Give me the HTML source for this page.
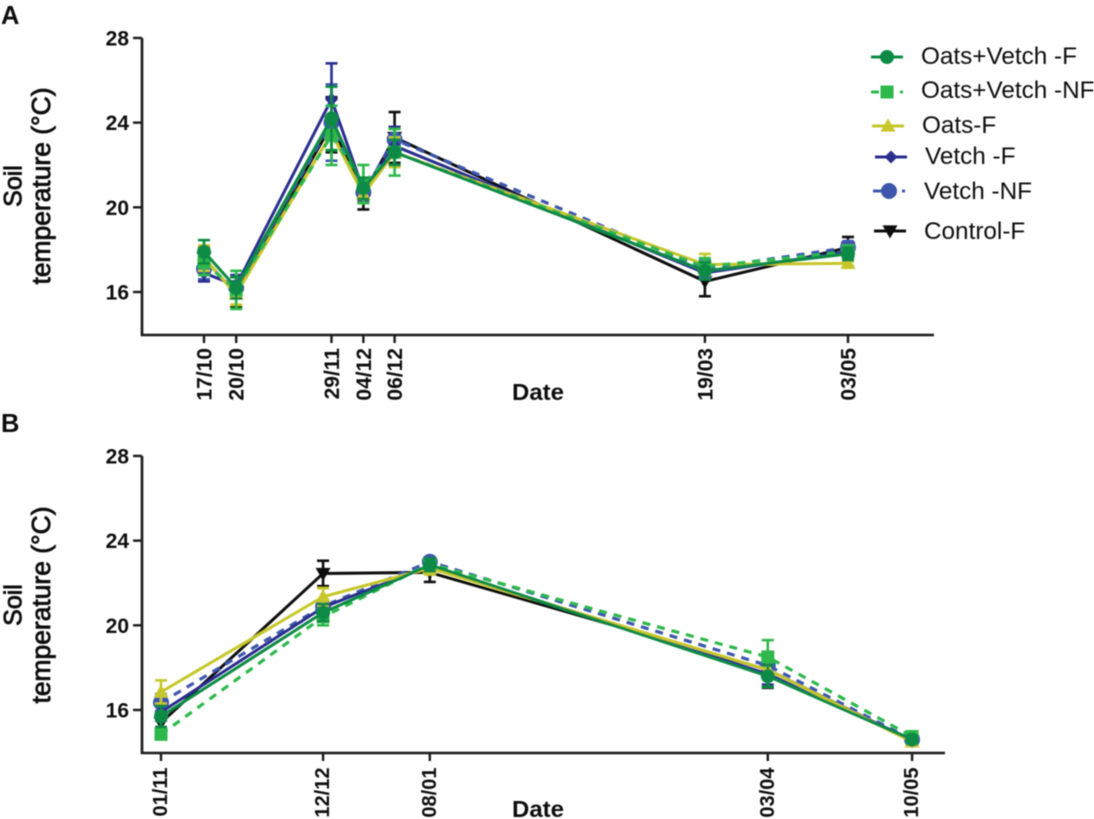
<!DOCTYPE html>
<html lang="en">
<head>
<meta charset="utf-8">
<title>Soil temperature by date</title>
<style>
html,body{margin:0;padding:0;background:#fff;width:1094px;height:819px;overflow:hidden}
svg{display:block}
text{font-family:"Liberation Sans",sans-serif;fill:#111}
.b{font-weight:bold}
.m{font-weight:normal;stroke:#111;stroke-width:0.8}
</style>
</head>
<body>
<svg id="chart" xmlns="http://www.w3.org/2000/svg" width="1094" height="819" viewBox="0 0 1094 819">
<defs><filter id="soft" x="-5%" y="-5%" width="110%" height="110%"><feGaussianBlur stdDeviation="0.55"/></filter></defs>
<rect width="1094" height="819" fill="#fff"/>
<g id="root" filter="url(#soft)"></g>
</svg>
<script>
/* Shared axis ticks */
const yTickValues = [16, 20, 24, 28];

/* Panel A */
const datesA = ["17/10", "20/10", "29/11", "04/12", "06/12", "19/03", "03/05"];
const axisPosA = [0, 9.9, 39.2, 49, 58.6, 154, 198];
const oatsVetchF_A = [17.9, 16.2, 24.2, 20.9, 22.6, 17.0, 17.8];
const oatsVetchNF_A = [17.4, 16.1, 23.4, 21.1, 22.6, 17.2, 17.9];
const oatsF_A = [17.6, 15.9, 23.5, 20.6, 22.6, 17.3, 17.35];
const vetchF_A = [16.9, 16.3, 25.1, 20.8, 22.9, 16.9, 17.9];
const vetchNF_A = [17.1, 16.2, 24.0, 20.7, 23.2, 17.1, 18.1];
const controlF_A = [17.6, 15.9, 23.9, 20.6, 23.3, 16.5, 18.1];
const oatsVetchF_A_err = [0.55, 0.5, 1.5, 0.5, 0.6, 0.4, 0.3];
const oatsVetchNF_A_err = [0.6, 0.9, 1.4, 0.9, 1.1, 0.4, 0.3];
const oatsF_A_err = [0.6, 0.5, 0.8, 0.4, 0.7, 0.5, 0.1];
const vetchF_A_err = [0.4, 0.5, 1.7, 0.5, 0.9, 0.3, 0.3];
const vetchNF_A_err = [0.5, 0.5, 1.8, 0.5, 0.6, 0.4, 0.3];
const controlF_A_err = [0.5, 0.6, 1.3, 0.7, 1.2, 0.7, 0.5];

/* Panel B */
const datesB = ["01/11", "12/12", "08/01", "03/04", "10/05"];
const axisPosB = [0, 41, 68, 153.5, 190];
const oatsVetchF_B = [15.7, 20.6, 22.85, 17.6, 14.6];
const oatsVetchNF_B = [14.85, 20.4, 22.9, 18.5, 14.75];
const oatsF_B = [16.85, 21.35, 22.7, 17.9, 14.5];
const vetchF_B = [15.9, 20.85, 22.8, 17.7, 14.6];
const vetchNF_B = [16.35, 20.9, 23.0, 18.1, 14.6];
const controlF_B = [15.4, 22.45, 22.5, 17.9, 14.55];
const oatsVetchF_B_err = [0.5, 0.4, 0.3, 0.5, 0.2];
const oatsVetchNF_B_err = [0.1, 0.4, 0.2, 0.8, 0.2];
const oatsF_B_err = [0.55, 0.4, 0.3, 0.4, 0.1];
const vetchF_B_err = [0.4, 0.3, 0.3, 0.5, 0.2];
const vetchNF_B_err = [0.4, 0.3, 0.2, 0.6, 0.2];
const controlF_B_err = [0.4, 0.6, 0.45, 0.85, 0.2];

/* Legend */
const seriesNames = ["Oats+Vetch -F", "Oats+Vetch -NF", "Oats-F", "Vetch -F", "Vetch -NF", "Control-F"];

const NS = "http://www.w3.org/2000/svg";
const root = document.getElementById("root");
const styles = [
  {color:"#0e8a45", dash:"", mark:"circle", size:7},
  {color:"#2fb84c", dash:"8 7", mark:"square", size:6.5},
  {color:"#c6c72c", dash:"", mark:"up", size:7.5},
  {color:"#2c2f8c", dash:"", mark:"diamond", size:6.5},
  {color:"#3c57ab", dash:"8 7", mark:"circle", size:8},
  {color:"#0a0a0a", dash:"", mark:"down", size:7.5}
];
/* bottom-to-top paint order */
const paintOrder = [5, 4, 3, 2, 1, 0];

function make(parent, tag, attrs, text) {
  const el = document.createElementNS(NS, tag);
  for (const k in attrs) el.setAttribute(k, attrs[k]);
  if (text !== undefined) el.textContent = text;
  parent.appendChild(el);
  return el;
}
function seg(parent, x1, y1, x2, y2, color, w) {
  return make(parent, "line", {x1:x1, y1:y1, x2:x2, y2:y2, stroke:color, "stroke-width":w});
}
function marker(parent, s, x, y) {
  const r = s.size;
  let el;
  if (s.mark === "circle") el = make(parent, "circle", {cx:x, cy:y, r:r, fill:s.color});
  else if (s.mark === "square") el = make(parent, "rect", {x:x-r, y:y-r, width:2*r, height:2*r, fill:s.color});
  else if (s.mark === "up") el = make(parent, "polygon", {points:[x,y-r, x+r,y+r*0.75, x-r,y+r*0.75].join(" "), fill:s.color});
  else if (s.mark === "down") el = make(parent, "polygon", {points:[x,y+r, x+r,y-r*0.75, x-r,y-r*0.75].join(" "), fill:s.color});
  else el = make(parent, "polygon", {points:[x,y-r, x+r,y, x,y+r, x-r,y].join(" "), fill:s.color});
  
  
}

function drawPanel(p) {
  const yScale = v => p.y16 - (v - 16) * 21.17;
  const xScale = v => p.x0 + v * p.xUnit;
  const panel = make(root, "g", {});
  
  

  const letter = make(panel, "text", {x:1, y:p.letterY, "font-size":25.5, "class":"b"}, p.letter);
  
  

  const yAxis = make(panel, "polyline", {points:[p.axisX, yScale(28), p.axisX, p.axisY, p.axisEnd, p.axisY].join(" "), fill:"none", stroke:"#1a1a1a", "stroke-width":2.6});
  
  

  yTickValues.forEach(v => {
    const t = seg(panel, p.axisX - 9, yScale(v), p.axisX, yScale(v), "#1a1a1a", 2.4);
    
    
    const l = make(panel, "text", {x:p.axisX - 13, y:yScale(v) + 7.5, "font-size":21, "class":"b", "text-anchor":"end"}, String(v));
    
    
  });

  p.dates.forEach((d, i) => {
    const x = xScale(p.pos[i]);
    const t = seg(panel, x, p.axisY, x, p.axisY + 8, "#1a1a1a", 2.4);
    
    
    const l = make(panel, "text", {transform:"translate(" + (x + 7.5 + p.labelShift) + "," + (p.axisY + p.labelGap) + ") rotate(-90)", "font-size":p.labelSize, "class":"b", "text-anchor":"end"}, d);
    
    
  });

  const xt = make(panel, "text", {x:512, y:p.dateY, "font-size":23, "class":"b", textLength:52, lengthAdjust:"spacingAndGlyphs"}, "Date");
  
  

  const yt1 = make(panel, "text", {transform:"translate(21.5," + p.titleY + ") rotate(-90)", "font-size":25, "class":"m", "text-anchor":"middle"}, "Soil");
  
  
  const yt2 = make(panel, "text", {transform:"translate(50," + p.titleY + ") rotate(-90)", "font-size":25.5, "class":"m", "text-anchor":"middle", textLength:197, lengthAdjust:"spacingAndGlyphs"}, "temperature (°C)");
  
  

  paintOrder.forEach(si => {
    const s = styles[si];
    const g = make(panel, "g", {});
    
    
    const vals = p.series[si];
    const errs = p.errors[si];
    vals.forEach((v, i) => {
      const x = xScale(p.pos[i]);
      const hi = yScale(v + errs[i]);
      const lo = yScale(v - errs[i]);
      const e = seg(g, x, hi, x, lo, s.color, 2.6);
      
      
      const c1 = seg(g, x - 6, hi, x + 6, hi, s.color, 2.6);
      
      
      const c2 = seg(g, x - 6, lo, x + 6, lo, s.color, 2.6);
      
      
    });
    const line = make(g, "polyline", {points:vals.map((v, i) => xScale(p.pos[i]) + "," + yScale(v)).join(" "), fill:"none", stroke:s.color, "stroke-width":s.dash ? 3.2 : 3, "stroke-dasharray":s.dash, "stroke-linejoin":"round"});
    
    
    vals.forEach((v, i) => marker(g, s, xScale(p.pos[i]), yScale(v)));
  });
}

drawPanel({
  id:"panel-a", letter:"A", letterY:24, y16:292, x0:204, xUnit:3.2525,
  axisX:142, axisY:335, axisEnd:934, dateY:400, titleY:186, labelShift:0, labelGap:13, labelSize:21,
  dates:datesA, pos:axisPosA,
  series:[oatsVetchF_A, oatsVetchNF_A, oatsF_A, vetchF_A, vetchNF_A, controlF_A],
  errors:[oatsVetchF_A_err, oatsVetchNF_A_err, oatsF_A_err, vetchF_A_err, vetchNF_A_err, controlF_A_err]
});
drawPanel({
  id:"panel-b", letter:"B", letterY:432, y16:710, x0:161, xUnit:3.953,
  axisX:142, axisY:753, axisEnd:945, dateY:817, titleY:605, labelShift:-1.5, labelGap:14.5, labelSize:20,
  dates:datesB, pos:axisPosB,
  series:[oatsVetchF_B, oatsVetchNF_B, oatsF_B, vetchF_B, vetchNF_B, controlF_B],
  errors:[oatsVetchF_B_err, oatsVetchNF_B_err, oatsF_B_err, vetchF_B_err, vetchNF_B_err, controlF_B_err]
});

/* Legend layout */
const legendRowY = [57, 92, 126, 157, 191, 231];
const legendLineX = [871, 871, 872, 875, 873, 874];
const legendTextX = [921, 921, 922, 925, 924, 924];
const legendBase = [64, 98, 133, 164, 199, 239];
const legend = make(root, "g", {});


seriesNames.forEach((name, i) => {
  const s = styles[i];
  const g = make(legend, "g", {});
  
  
  const ln = seg(g, legendLineX[i], legendRowY[i], legendLineX[i] + 32, legendRowY[i], s.color, 3);
  if (s.dash) ln.setAttribute("stroke-dasharray", "8 21 3");
  
  
  marker(g, s, legendLineX[i] + 16, legendRowY[i]);
  const t = make(g, "text", {x:legendTextX[i], y:legendBase[i], "font-size":24.3}, name);
  
  
});
</script>
</body>
</html>
